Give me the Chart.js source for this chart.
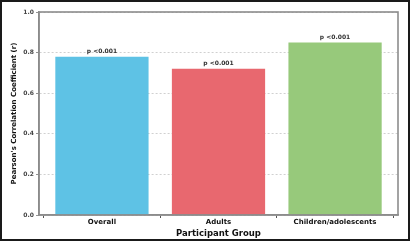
<!DOCTYPE html>
<html>
<head>
<meta charset="utf-8">
<script src="https://cdn.jsdelivr.net/npm/chart.js@4"></script>
<style>
  html, body { margin: 0; padding: 0; background: #fff; }
  #frame {
    position: absolute; left: 0; top: 0;
    width: 410px; height: 241px;
    box-sizing: border-box;
    border: 2px solid #1a1a1a;
    background: #fff;
  }
  #cvs { display: block; }
</style>
</head>
<body>
<div id="frame"><canvas id="cvs" width="406" height="237"></canvas></div>
<script>
//-------------------------------------------------------------------
// data
//-------------------------------------------------------------------
const groups = ['Overall', 'Adults', 'Children/adolescents'];
const pearsonR = [0.78, 0.72, 0.85];
const pLabels = ['p <0.001', 'p <0.001', 'p <0.001'];
const barColors = ['#5ec2e5', '#e8686f', '#97c97b'];
const yTicks = [0.0, 0.2, 0.4, 0.6, 0.8, 1.0];

const FONT = "'DejaVu Sans', sans-serif";

//-------------------------------------------------------------------
// plugins
//-------------------------------------------------------------------
// grey box round the plot area (top and right edges)
const plotFrame = {
  id: 'plotFrame',
  afterDatasetsDraw(chart) {
    const a = chart.chartArea;
    const ctx = chart.ctx;
    ctx.save();
    ctx.strokeStyle = '#8c8c8c';
    ctx.lineWidth = 1.6;
    ctx.setLineDash([]);
    ctx.strokeRect(a.left, a.top, a.right - a.left, a.bottom - a.top);
    ctx.restore();
  }
};

// p-value text above each bar
const pValueLabels = {
  id: 'pValueLabels',
  afterDatasetsDraw(chart) {
    const ctx = chart.ctx;
    const meta = chart.getDatasetMeta(0);
    ctx.save();
    ctx.font = 'bold 6px ' + FONT;
    ctx.fillStyle = '#333';
    ctx.textAlign = 'center';
    ctx.textBaseline = 'bottom';
    meta.data.forEach((bar, i) => {
      ctx.fillText(pLabels[i], bar.x, bar.y - 2.5);
    });
    ctx.restore();
  }
};

//-------------------------------------------------------------------
// chart
//-------------------------------------------------------------------
const ctx = document.getElementById('cvs').getContext('2d');

new Chart(ctx, {
  type: 'bar',
  data: {
    datasets: [{
      data: groups.map((g, i) => ({ x: i, y: pearsonR[i] })),
      backgroundColor: barColors,
      borderWidth: 0,
      barPercentage: 0.8,
      categoryPercentage: 1.0
    }]
  },
  options: {
    animation: false,
    responsive: false,
    layout: { padding: { top: 10, right: 10, left: 8, bottom: 0 } },
    plugins: {
      legend: { display: false },
      tooltip: { enabled: false }
    },
    scales: {
      x: {
        type: 'linear',
        offset: false,
        min: -0.54,
        max: 2.54,
        afterBuildTicks: (scale) => {
          scale.ticks = groups.map((g, i) => ({ value: i }));
        },
        afterFit: (scale) => { scale.height = 24; },
        border: { display: true, color: '#8c8c8c', width: 1.6 },
        grid: {
          drawOnChartArea: false,
          drawTicks: true,
          tickLength: 3,
          tickColor: '#555'
        },
        ticks: {
          autoSkip: false,
          maxRotation: 0,
          padding: 0,
          color: '#111',
          font: { family: FONT, size: 7, weight: 'bold' },
          callback: (val) => groups[val]
        },
        title: {
          display: true,
          text: 'Participant Group',
          color: '#111',
          padding: { top: -1, bottom: 0 },
          font: { family: FONT, size: 8.5, weight: 'bold' }
        }
      },
      y: {
        min: 0,
        max: 1,
        afterBuildTicks: (scale) => {
          scale.ticks = yTicks.map(v => ({ value: v }));
        },
        afterFit: (scale) => { scale.width = 29; },
        border: { display: true, color: '#8c8c8c', width: 1.6, dash: [2, 2] },
        grid: {
          color: '#c4c4c4',
          lineWidth: 0.8,
          drawTicks: true,
          tickLength: 3,
          tickColor: '#777',
          tickBorderDash: [1, 0]
        },
        ticks: {
          padding: 2,
          color: '#444',
          font: { family: FONT, size: 6, weight: 'bold' },
          callback: (val) => val.toFixed(1)
        },
        title: {
          display: true,
          text: "Pearson's Correlation Coefficient (r)",
          color: '#111',
          padding: { top: 0, bottom: 0 },
          font: { family: FONT, size: 7, weight: 'bold' }
        }
      }
    }
  },
  plugins: [plotFrame, pValueLabels]
});
</script>
</body>
</html>
